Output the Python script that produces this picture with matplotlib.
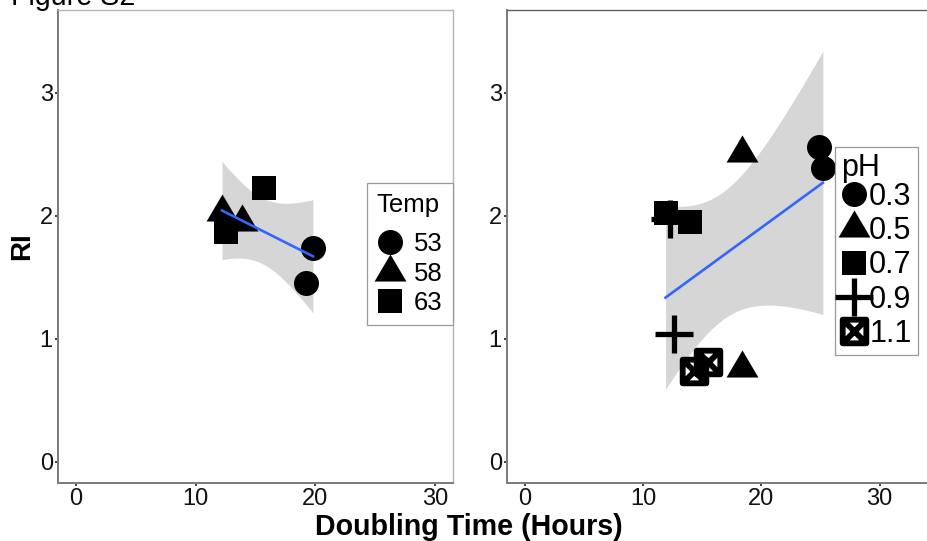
import numpy as np
import matplotlib
matplotlib.use("Agg")
import matplotlib.pyplot as plt
from matplotlib.path import Path
from matplotlib.lines import Line2D

plt.rcParams['font.family'] = ['Liberation Sans', 'DejaVu Sans']

# Temperature panel
temp_doubling = [19.8, 19.2, 12.2, 13.9, 12.5, 15.75]
temp_ri = [1.74, 1.45, 2.03, 1.95, 1.87, 2.23]
temp_group = ['53', '53', '58', '58', '63', '63']
temp_levels = ['53', '58', '63']

# pH panel
ph_doubling = [24.9, 25.2, 18.4, 18.4, 11.9, 14.0, 12.3, 12.6, 14.3, 15.5]
ph_ri = [2.56, 2.39, 2.51, 0.76, 2.02, 1.95, 1.97, 1.04, 0.74, 0.81]
ph_group = ['0.3', '0.3', '0.5', '0.5', '0.7', '0.7', '0.9', '0.9', '1.1', '1.1']
ph_levels = ['0.3', '0.5', '0.7', '0.9', '1.1']

x_ticks = [0, 10, 20, 30]
y_ticks = [0, 1, 2, 3]

# t quantiles (0.975) for the 95% band of the lm fit
T_CRIT = {4: 2.776, 8: 2.306}

# marker shapes, ggplot style
tri = Path([(-1, -0.567), (1, -0.567), (0, 1.133), (-1, -0.567)],
           [Path.MOVETO, Path.LINETO, Path.LINETO, Path.CLOSEPOLY])
boxx = Path([(-1, -1), (1, -1), (1, 1), (-1, 1), (-1, -1),
             (-1, -1), (1, 1), (-1, 1), (1, -1)],
            [Path.MOVETO, Path.LINETO, Path.LINETO, Path.LINETO, Path.CLOSEPOLY,
             Path.MOVETO, Path.LINETO, Path.MOVETO, Path.LINETO])

STYLES = [
    dict(marker='o', markersize=18, color='black', markeredgewidth=0),
    dict(marker=tri, markersize=26, color='black', markeredgewidth=0),
    dict(marker='s', markersize=17, color='black', markeredgewidth=0),
    dict(marker='+', markersize=28, color='black', markeredgewidth=3.8),
    dict(marker=boxx, markersize=17, color='black', markerfacecolor='none',
         markeredgewidth=4.2),
]


def lm_band(x, y):
    """Straight line fit with its 95% confidence band."""
    x = np.asarray(x, float)
    y = np.asarray(y, float)
    n = len(x)
    slope, icpt = np.polyfit(x, y, 1)
    xs = np.linspace(x.min(), x.max(), 100)
    fit = icpt + slope * xs
    resid = y - (icpt + slope * x)
    s = np.sqrt(np.sum(resid ** 2) / (n - 2))
    sxx = np.sum((x - x.mean()) ** 2)
    se = s * np.sqrt(1.0 / n + (xs - x.mean()) ** 2 / sxx)
    half = T_CRIT[n - 2] * se
    return xs, fit, fit - half, fit + half


def draw_panel(ax, xv, yv, groups, levels, title, legend_xy, fsize,
               labelspacing, handlelen, textpad, title_sep, bpad, xmax):
    xs, fit, lo, hi = lm_band(xv, yv)
    ax.fill_between(xs, lo, hi, color='#999999', alpha=0.4, lw=0, zorder=1)
    ax.plot(xs, fit, color='#3366FF', lw=1.9, zorder=4)
    handles = []
    for lev, st in zip(levels, STYLES):
        idx = [i for i, g in enumerate(groups) if g == lev]
        ax.plot([xv[i] for i in idx], [yv[i] for i in idx], ls='none',
                zorder=3, **st)
        handles.append(Line2D([], [], ls='none', **st))

    ax.set_xlim(-1.5, xmax)
    ax.set_ylim(-0.175, 3.675)
    ax.set_xticks(x_ticks)
    ax.set_yticks(y_ticks)
    ax.tick_params(length=2.2, width=1.3, color='#333333', labelsize=17,
                   labelcolor='#111111', pad=1.5)
    for side in ['left', 'bottom']:
        ax.spines[side].set_color('#7a7a7a')
        ax.spines[side].set_linewidth(1.4)
    for side in ['top', 'right']:
        ax.spines[side].set_color('#b5b5b5')
        ax.spines[side].set_linewidth(1.0)

    leg = ax.legend(handles, levels, title=title, loc='upper left',
                    bbox_to_anchor=legend_xy, bbox_transform=fig.transFigure,
                    fontsize=fsize, title_fontsize=fsize, frameon=True,
                    fancybox=False, framealpha=1, edgecolor='#999999',
                    handlelength=handlelen, handletextpad=textpad,
                    labelspacing=labelspacing, borderpad=bpad,
                    borderaxespad=0, alignment='left')
    leg.get_frame().set_linewidth(0.9)
    leg._legend_box.sep = title_sep
    leg.set_zorder(5)
    return leg


fig = plt.figure(figsize=(9.27, 5.41), dpi=100)

ax1 = fig.add_axes([58 / 927, 1 - 483 / 541, 395 / 927, 473 / 541])
# the right panel runs past the cropped right edge of the figure
ax2 = fig.add_axes([507 / 927, 1 - 483 / 541, 440 / 927, 473 / 541])

draw_panel(ax1, temp_doubling, temp_ri, temp_group, temp_levels, 'Temp',
           (367 / 927, 1 - 183 / 541), 18.5, 0.22, 1.0, 0.45, 11, 0.38, 31.5)
draw_panel(ax2, ph_doubling, ph_ri, ph_group, ph_levels, 'pH',
           (835 / 927, 1 - 147 / 541), 22, 0.14, 0.82, 0.1, -1, 0.2,
           -1.5 + 440 / 11.83)
ax2.spines['top'].set_color('#606060')
ax2.spines['right'].set_visible(False)

fig.text(11 / 927, 1 - 5 / 541, 'Figure S2', fontsize=20.6, va='baseline')
fig.text(469 / 927, 1 - 535 / 541, 'Doubling Time (Hours)', fontsize=20.6,
         fontweight='bold', ha='center', va='baseline')
fig.text(22 / 927, 1 - 246 / 541, 'RI', fontsize=20, fontweight='bold',
         rotation=90, ha='center', va='center')

fig.savefig('out.png', dpi=100)
